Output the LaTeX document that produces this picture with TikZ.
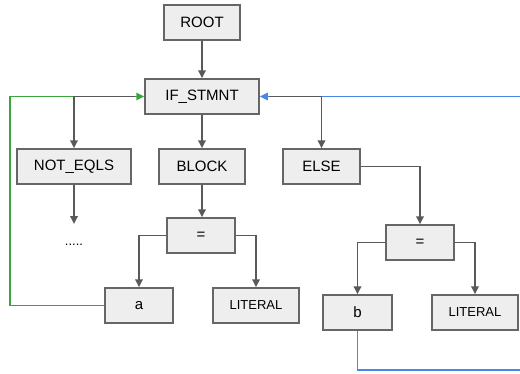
\documentclass[tikz,border=0pt]{standalone}
\usepackage{fontspec}
\setmainfont{Liberation Sans}
\usetikzlibrary{arrows.meta}
\definecolor{boxfill}{HTML}{EEEEEE}
\definecolor{boxline}{HTML}{666666}
\definecolor{conn}{HTML}{595959}
\definecolor{bluel}{HTML}{4A86E8}
\definecolor{greenl}{HTML}{3AA53A}
\tikzset{
  box/.style={draw=boxline, fill=boxfill, line width=1.5pt, inner sep=0pt, font=\fontsize{15}{15}\selectfont},
  conn/.style={draw=conn, line width=1.8pt, -{Triangle[length=8pt,width=7.5pt]}},
  fb/.style={line width=1.5pt, -{Triangle[length=8pt,width=7.5pt]}},
}
\begin{document}
\begin{tikzpicture}[x=1pt,y=-1pt]
\useasboundingbox (0,0) rectangle (520,373);
\node[box, minimum width=76pt, minimum height=35pt] (root) at (202,22.5) {ROOT};
\node[box, minimum width=114pt, minimum height=35pt] (if) at (202,96.5) {IF\_STMNT};
\node[box, minimum width=114pt, minimum height=35pt] (ne) at (74,166.5) {NOT\_EQLS};
\node[box, minimum width=86pt, minimum height=35pt] (block) at (202,166.5) {BLOCK};
\node[box, minimum width=77pt, minimum height=35pt] (else) at (321.5,166.5) {ELSE};
\node[font=\fontsize{13}{13}\selectfont] (dots) at (74,245) {.....};
\node[box, minimum width=68pt, minimum height=35pt] (eq1) at (201,235.5) {=};
\node[box, minimum width=68pt, minimum height=35pt] (a) at (139,305.5) {a};
\node[box, minimum width=86pt, minimum height=35pt, font=\fontsize{13}{13}\selectfont] (lit1) at (256,305.5) {LITERAL};
\node[box, minimum width=68pt, minimum height=35pt] (eq2) at (420,242.5) {=};
\node[box, minimum width=69pt, minimum height=35pt] (b) at (357.5,312.5) {b};
\node[box, minimum width=86pt, minimum height=35pt, font=\fontsize{13}{13}\selectfont] (lit2) at (475,312.5) {LITERAL};
\coordinate (dotstop) at (74,224);
\coordinate (ifL) at ([xshift=-9pt]if.west);
\coordinate (ifR) at ([xshift=9pt]if.east);
% feedback links
\draw[greenl, fb] (a.west) -| (10,96.5) -- (if.west);
\draw[bluel, fb] (b.south) |- (522,370) |- (if.east);
% tree
\draw[conn] (root) -- (if);
\draw[conn] (ifL) -| (ne.north);
\draw[conn] (ifR) -| (else.north);
\draw[conn] (if) -- (block);
\draw[conn] (ne.south) -- (dotstop);
\draw[conn] (block.south) -- (eq1.north -| block.south);
\draw[conn] (eq1.west) -| (a.north);
\draw[conn] (eq1.east) -| (lit1.north);
\draw[conn] (else.east) -| (eq2.north);
\draw[conn] (eq2.west) -| (b.north);
\draw[conn] (eq2.east) -| (lit2.north);
\end{tikzpicture}
\end{document}
